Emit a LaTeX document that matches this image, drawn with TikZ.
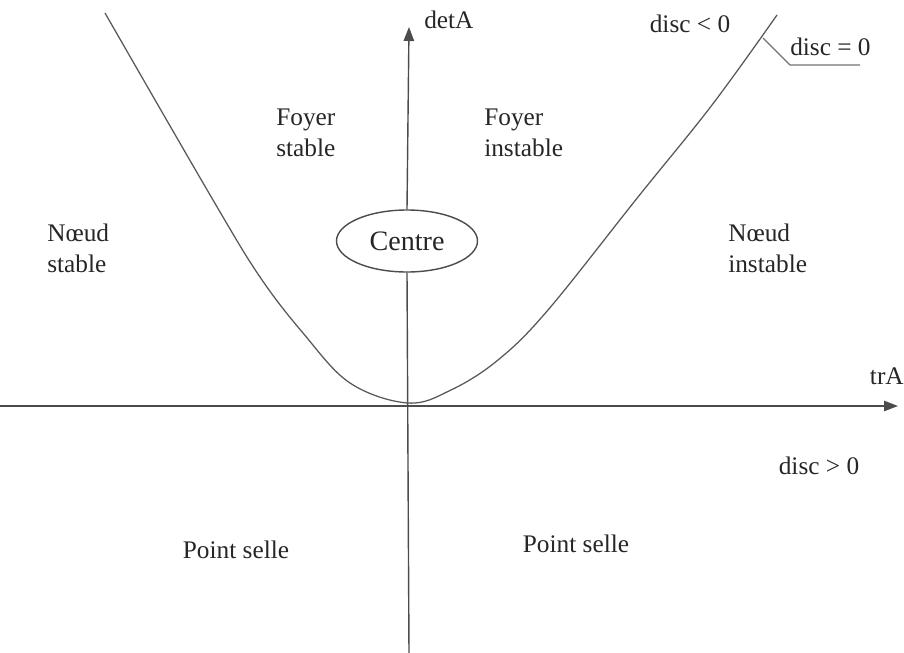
\documentclass[tikz,border=0pt]{standalone}
\usepackage{fontspec}
\setmainfont{Liberation Serif}
\usetikzlibrary{arrows.meta,shapes.geometric}

\begin{document}
\begin{tikzpicture}[x=0.025cm, y=-0.025cm, every node/.style={font=\fontsize{18}{22}\selectfont, text=black!85}, >={Triangle[length=3.5mm, width=2.6mm]}, axe/.style={draw=black!70, line width=1pt}, courbe/.style={draw=black!65, line width=0.9pt}, zone/.style={align=left, anchor=north west, inner sep=0pt}]
	\useasboundingbox (0,0) rectangle (904,653);
	% axes
	\coordinate (xg) at (0,406);
	\coordinate (xd) at (898,406);
	\coordinate (yb) at (409,653);
	\coordinate (yh) at (409,27);
	\node[ellipse, axe, minimum width=141*0.025cm, minimum height=62*0.025cm, inner sep=0pt, font=\fontsize{20}{24}\selectfont, fill=white] (centre) at (407,241) {Centre};
	\draw[axe, ->] (xg) -- (xd);
	\draw[axe] (yb) -- (centre.south);
	\draw[axe, ->] (centre.north) -- (yh);
	\node[anchor=west, inner sep=0pt] (detA) at (424,20) {detA};
	\node[anchor=east, inner sep=0pt] (trA) at (904,376) {trA};
	% courbe disc = 0
	\draw[courbe] plot[smooth, tension=0.6] coordinates {(105,13) (213,200) (260,277) (303,333) (350,383) (408,403) (451,390) (498,360) (548,310) (638,197) (712,105) (777,15)};
	\coordinate (pied) at (763,38);
	\coordinate (coude) at (790,65);
	\coordinate (fin) at (860,65);
	\draw[courbe, draw=black!55] (pied) -- (coude) -- (fin);
	\node[anchor=west, inner sep=0pt] (discnul) at (790,47) {disc = 0};
	\node[inner sep=0pt] (discneg) at (690,24) {disc < 0};
	\node[inner sep=0pt] (discpos) at (819,466) {disc > 0};
	% zones
	\node[zone] (fs) at (276,109) {Foyer\\stable};
	\node[zone] (fi) at (484,109) {Foyer\\instable};
	\node[zone] (ns) at (47,224) {Nœud\\stable};
	\node[zone] (ni) at (728,224) {Nœud\\instable};
	\node[inner sep=0pt] (psg) at (236,550) {Point selle};
	\node[inner sep=0pt] (psd) at (576,544) {Point selle};
\end{tikzpicture}
\end{document}
